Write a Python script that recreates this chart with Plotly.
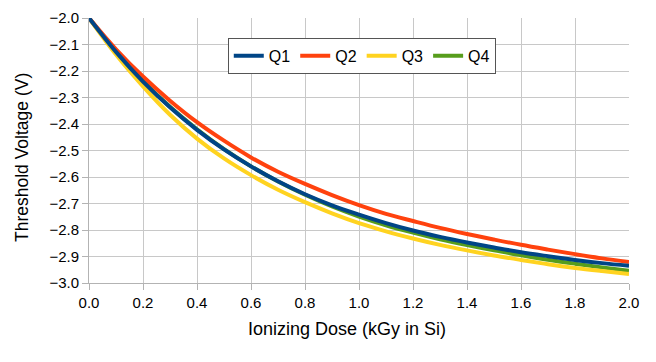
import plotly.graph_objects as go

dose = [0.0, 0.1, 0.2, 0.3, 0.4, 0.5, 0.6, 0.7, 0.8, 0.9, 1.0,
        1.1, 1.2, 1.3, 1.4, 1.5, 1.6, 1.7, 1.8, 1.9, 2.0]

q1 = [-2.000, -2.128, -2.240, -2.337, -2.422, -2.496, -2.560, -2.616, -2.665, -2.707, -2.742,
      -2.774, -2.802, -2.826, -2.847, -2.866, -2.884, -2.899, -2.913, -2.925, -2.935]
q2 = [-2.000, -2.118, -2.221, -2.312, -2.393, -2.463, -2.526, -2.580, -2.626, -2.668, -2.706,
      -2.739, -2.766, -2.792, -2.815, -2.836, -2.856, -2.874, -2.891, -2.907, -2.921]
q3 = [-2.000, -2.138, -2.258, -2.365, -2.455, -2.530, -2.593, -2.648, -2.695, -2.737, -2.774,
      -2.805, -2.832, -2.856, -2.877, -2.896, -2.913, -2.929, -2.943, -2.955, -2.966]
q4 = [-2.000, -2.127, -2.238, -2.335, -2.420, -2.495, -2.560, -2.617, -2.667, -2.711, -2.749,
      -2.782, -2.810, -2.835, -2.857, -2.877, -2.895, -2.912, -2.927, -2.941, -2.954]

series = [("Q4", q4, "#579d1c"), ("Q3", q3, "#ffd320"),
          ("Q2", q2, "#ff420e"), ("Q1", q1, "#004586")]

x_title = "Ionizing Dose (kGy in Si)"
y_title = "Threshold Voltage (V)"

fig = go.Figure()
for name, vals, col in series:
    fig.add_trace(go.Scatter(x=dose, y=vals, name=name, mode="lines",
                             line=dict(color=col, width=4, shape="spline")))

font = "Liberation Sans, Arial, sans-serif"
fig.update_layout(
    width=648, height=354,
    margin=dict(l=81, r=27, t=10, b=79, autoexpand=False),
    paper_bgcolor="white", plot_bgcolor="white",
    font=dict(family=font, size=15, color="black"),
    showlegend=True,
    legend=dict(orientation="h", x=0.257, y=0.925, xanchor="left", yanchor="top",
                traceorder="reversed", bgcolor="white", bordercolor="#555555",
                borderwidth=1, font=dict(size=16)),
    xaxis=dict(range=[0, 2.0], dtick=0.2, tick0=0, tickformat=".1f",
               showgrid=True, gridcolor="#c8c8c8", gridwidth=1,
               showline=True, linecolor="#b3b3b3", linewidth=1,
               ticks="outside", ticklen=6, tickcolor="#b3b3b3",
               zeroline=False, automargin=False),
    yaxis=dict(range=[-3.0, -2.0], dtick=0.1, tick0=-3.0, tickformat=".1f",
               showgrid=True, gridcolor="#c8c8c8", gridwidth=1,
               showline=True, linecolor="#b3b3b3", linewidth=1,
               ticks="outside", ticklen=6, tickcolor="#b3b3b3",
               zeroline=False, automargin=False),
    annotations=[
        dict(text=x_title, xref="paper", yref="paper", x=0.477, y=-0.1736,
             xanchor="center", yanchor="middle", showarrow=False,
             font=dict(size=18)),
        dict(text=y_title, xref="paper", yref="paper", x=-0.124, y=0.4717,
             xanchor="center", yanchor="middle", showarrow=False, textangle=-90,
             font=dict(size=17.5)),
    ],
)

fig.write_html("out.html")
